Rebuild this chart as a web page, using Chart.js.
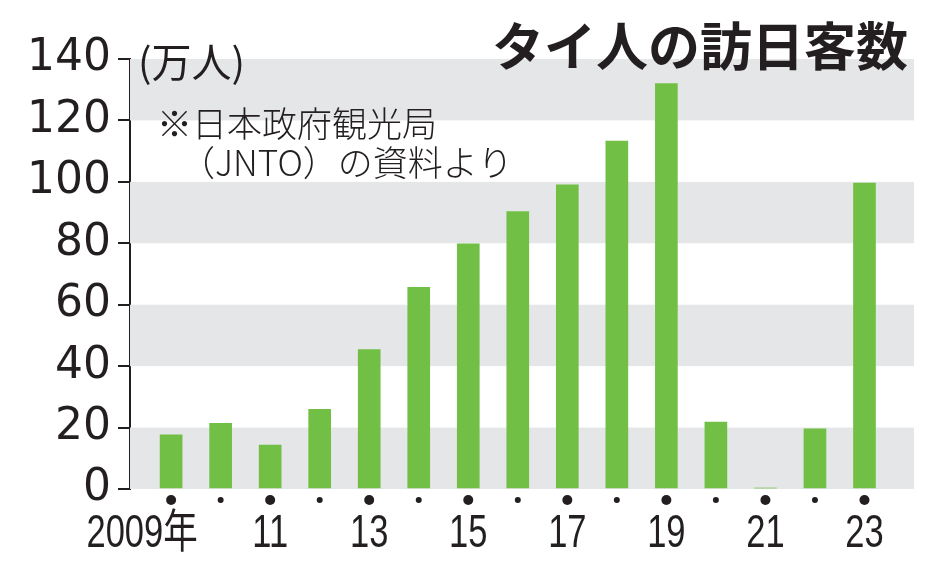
<!DOCTYPE html>
<html>
<head>
<meta charset="utf-8">
<script src="https://cdn.jsdelivr.net/npm/chart.js@4.4.1/dist/chart.umd.min.js"></script>
<style>
    html, body { margin: 0; padding: 0; background: #fff; }
    #wrap { width: 934px; height: 571px; }
</style>
</head>
<body>
<div id="wrap"><canvas id="chart" width="934" height="571"></canvas></div>
<script>
// Thai visitors to Japan (10,000 people)
const years = [2009, 2010, 2011, 2012, 2013, 2014, 2015, 2016, 2017, 2018, 2019, 2020, 2021, 2022, 2023];
const visitors = [17.6, 21.4, 14.3, 25.9, 45.4, 65.7, 79.8, 90.3, 99.0, 113.3, 132.0, 21.8, 0.3, 19.6, 99.6];
const yTicks = [0, 20, 40, 60, 80, 100, 120, 140];
const labelYears = [2009, 2011, 2013, 2015, 2017, 2019, 2021, 2023];
const labelTexts = ['2009年', '11', '13', '15', '17', '19', '21', '23'];

const titleText = 'タイ人の訪日客数';
const unitText = '(万人)';
const noteLines = ['※日本政府観光局', '（JNTO）の資料より'];

const ink = '#231f20';
const barGreen = '#71bf45';
const bandGray = '#e5e6e7';

// gray bands behind the bars, every other interval of the y ticks
const bandsPlugin = {
    id: 'bands',
    beforeDatasetsDraw(chart) {
        const { ctx, chartArea, scales: { y } } = chart;
        ctx.save();
        ctx.fillStyle = bandGray;
        for (let i = 0; i < yTicks.length - 1; i += 2) {
            const top = y.getPixelForValue(yTicks[i + 1]);
            const bottom = y.getPixelForValue(yTicks[i]);
            ctx.fillRect(chartArea.left, top, chartArea.right - chartArea.left, bottom - top);
        }
        ctx.restore();
    }
};

// dots under each year, year labels, title and notes
const textPlugin = {
    id: 'texts',
    afterDraw(chart) {
        const { ctx, scales: { x } } = chart;
        ctx.save();
        ctx.fillStyle = ink;

        years.forEach(yr => {
            const px = x.getPixelForValue(yr);
            ctx.beginPath();
            ctx.arc(px, 500, yr % 2 === 1 ? 5 : 3, 0, Math.PI * 2);
            ctx.fill();
        });

        // condensed year labels
        ctx.font = '46px "Liberation Sans", "Noto Sans CJK JP", sans-serif';
        ctx.textAlign = 'center';
        ctx.textBaseline = 'alphabetic';
        labelYears.forEach((yr, i) => {
            let px = x.getPixelForValue(yr);
            if (i === 0) px -= 29; // first label sits a bit left
            ctx.save();
            ctx.translate(px, 547);
            ctx.scale(0.75, 1);
            ctx.fillText(labelTexts[i], 0, 0);
            ctx.restore();
        });

        // title
        ctx.font = 'bold 52px "Noto Sans CJK JP", sans-serif';
        ctx.textAlign = 'right';
        ctx.textBaseline = 'middle';
        ctx.fillText(titleText, 908, 46);

        // unit
        ctx.font = '40px "Noto Sans CJK JP", sans-serif';
        ctx.textAlign = 'left';
        ctx.fillText(unitText, 138, 62);

        // source note
        ctx.font = '300 35px "Noto Sans CJK JP", sans-serif';
        ctx.fillText(noteLines[0], 157, 124);
        ctx.fillText(noteLines[1], 180, 163);
        ctx.restore();
    }
};

new Chart(document.getElementById('chart').getContext('2d'), {
    type: 'bar',
    data: {
        datasets: [{
            data: years.map((yr, i) => ({ x: yr, y: visitors[i] })),
            backgroundColor: barGreen,
            borderWidth: 0,
            barThickness: 22
        }]
    },
    options: {
        responsive: false,
        animation: false,
        devicePixelRatio: 1,
        layout: { padding: { top: 59, right: 20, left: 0, bottom: 0 } },
        plugins: {
            legend: { display: false },
            tooltip: { enabled: false }
        },
        scales: {
            x: {
                type: 'linear',
                offset: false,
                min: 2008.17,
                max: 2024,
                grid: { display: false },
                border: { display: false },
                ticks: { display: false },
                afterFit(scale) { scale.height = 82; }
            },
            y: {
                min: 0,
                max: 140,
                afterBuildTicks(scale) { scale.ticks = yTicks.map(v => ({ value: v })); },
                grid: {
                    drawOnChartArea: false,
                    drawTicks: true,
                    tickLength: 12,
                    color: ink,
                    lineWidth: 2
                },
                border: { display: true, color: ink, width: 2 },
                ticks: {
                    color: ink,
                    padding: 7,
                    font: { family: '"DejaVu Sans", sans-serif', size: 44 }
                },
                afterFit(scale) { scale.width = 130; }
            }
        }
    },
    plugins: [bandsPlugin, textPlugin]
});
</script>
</body>
</html>
